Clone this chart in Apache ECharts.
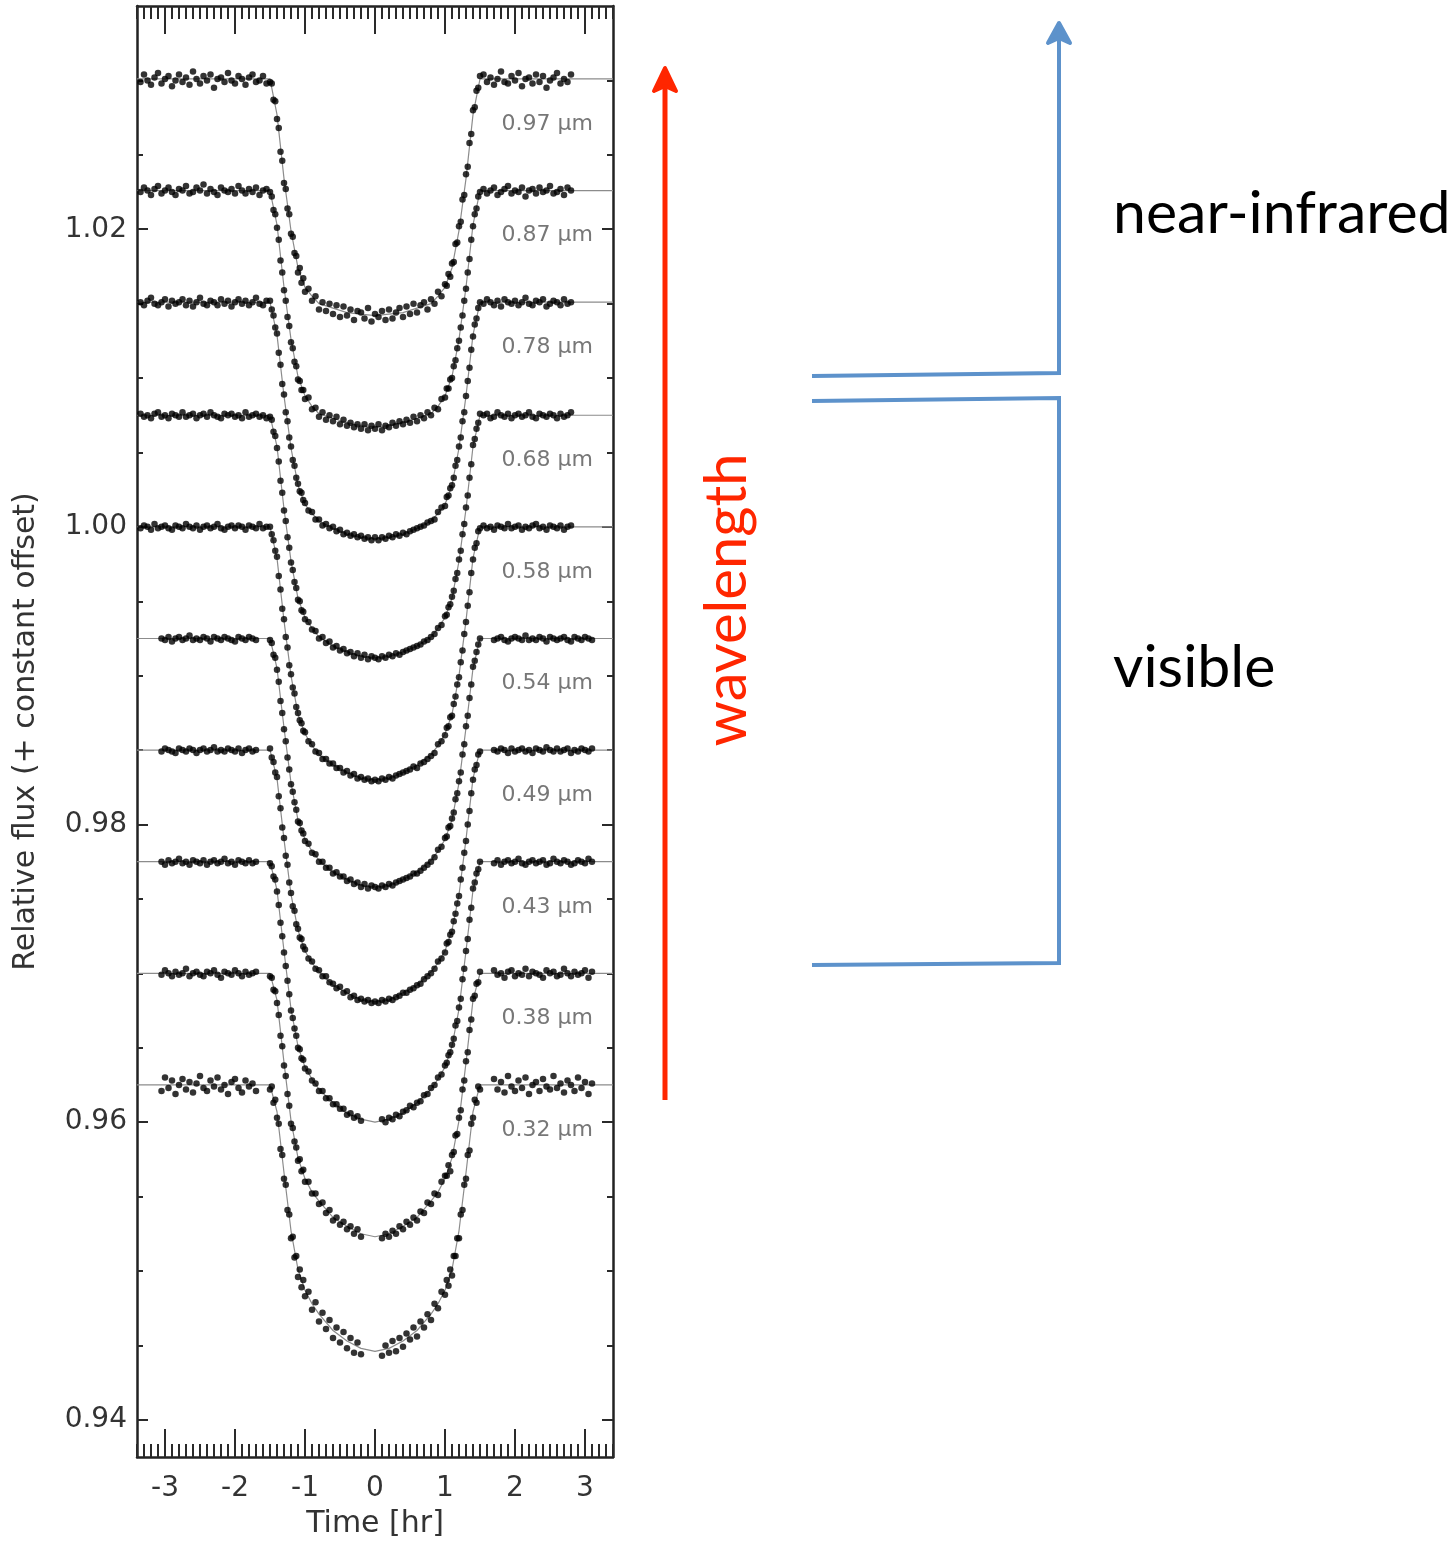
<!DOCTYPE html>
<html>
<head>
<meta charset="utf-8">
<title>Transit light curves by wavelength</title>
<script src="https://cdn.jsdelivr.net/npm/echarts@6/dist/echarts.min.js"></script>
<style>
  html, body { margin: 0; padding: 0; background: #fff; }
  #chart { width: 1456px; height: 1545px; }
</style>
</head>
<body>
<div id="chart"></div>
<script>
// Wavelength bands, top to bottom, and their out-of-transit flux level (with offset)
const bands = ["0.97 µm", "0.87 µm", "0.78 µm", "0.68 µm", "0.58 µm",
               "0.54 µm", "0.49 µm", "0.43 µm", "0.38 µm", "0.32 µm"]
const baselines = [1.0301, 1.0226, 1.0151, 1.0075, 1.0000,
                   0.9925, 0.9850, 0.9775, 0.9700, 0.9625]
// which time sampling each band uses (the red bands were observed with wider coverage)
const bandSampling = ["nir", "nir", "nir", "nir", "nir", "vis", "vis", "vis", "vis", "vis"]

// Observation times [hr]
const timeLeftNir = [-3.35, -3.3, -3.25, -3.2, -3.15, -3.1, -3.05, -3.0, -2.95, -2.9, -2.85, -2.8, -2.75,
  -2.7, -2.65, -2.6, -2.55, -2.5, -2.45, -2.4, -2.35, -2.3, -2.25, -2.2, -2.15, -2.1, -2.05, -2.0,
  -1.95, -1.9, -1.85, -1.8, -1.75, -1.7, -1.65, -1.6, -1.55]
const timeRightNir = [1.55, 1.6, 1.65, 1.7, 1.75, 1.8, 1.85, 1.9, 1.95, 2.0, 2.05, 2.1, 2.15, 2.2,
  2.25, 2.3, 2.35, 2.4, 2.45, 2.5, 2.55, 2.6, 2.65, 2.7, 2.75, 2.8]
const timeLeftVis = [-3.05, -3.0, -2.95, -2.9, -2.85, -2.8, -2.75, -2.7, -2.65, -2.6, -2.55, -2.5,
  -2.45, -2.4, -2.35, -2.3, -2.25, -2.2, -2.15, -2.1, -2.05, -2.0, -1.95, -1.9, -1.85, -1.8, -1.75, -1.7]
const timeRightVis = [1.7, 1.75, 1.8, 1.85, 1.9, 1.95, 2.0, 2.05, 2.1, 2.15, 2.2, 2.25, 2.3, 2.35,
  2.4, 2.45, 2.5, 2.55, 2.6, 2.65, 2.7, 2.75, 2.8, 2.85, 2.9, 2.95, 3.0, 3.05, 3.1]
const timeTransit = [-1.5, -1.475, -1.45, -1.425, -1.4, -1.375, -1.35, -1.325, -1.3, -1.275, -1.25,
  -1.225, -1.2, -1.175, -1.15, -1.125, -1.1, -1.075, -1.05, -1.025, -1.0,
  -0.95, -0.9, -0.85, -0.8, -0.75, -0.7, -0.65, -0.6, -0.55, -0.5, -0.45, -0.4, -0.35, -0.3, -0.25,
  -0.2, -0.15, -0.1, -0.05, 0, 0.05, 0.1, 0.15, 0.2, 0.25, 0.3, 0.35, 0.4, 0.45, 0.5, 0.55, 0.6,
  0.65, 0.7, 0.75, 0.8, 0.85, 0.9, 0.95,
  1.0, 1.025, 1.05, 1.075, 1.1, 1.125, 1.15, 1.175, 1.2, 1.225, 1.25, 1.275, 1.3, 1.325, 1.35,
  1.375, 1.4, 1.425, 1.45, 1.475, 1.5]

// Measured dip below each band's baseline, in units of 1e-4 relative flux
// [before transit, in transit, after transit]
const dip097 = [
  [2, -3, 1, 4, -1, -4, 3, 0, -2, 5, 1, -3, 2, -1, 4, -5, 0, 3, -2, 1, -3, 6, 0, -1, 2, -4, 1, 3, -2, 0, 4, -1, -3, 2, 1, -2, 3],
  [2, 3, 14, 15, 27, 33, 49, 55, 70, 74, 87, 91, 104, 106, 117, 119, 130, 127, 137, 134, 143,
   141, 149, 146, 155, 150, 156, 151, 158, 152, 160, 153, 159, 155, 162, 156, 157, 161, 154, 163, 158,
   160, 156, 162, 155, 161, 157, 154, 160, 153, 158, 151, 157, 152, 150, 155, 148, 151, 143, 146,
   138, 139, 131, 133, 124, 123, 111, 110, 99, 96, 81, 78, 64, 59, 43, 37, 21, 19, 8, 6, -2],
  [-3, 2, -1, 4, 0, -5, 2, 3, -2, 1, -4, 5, 0, -1, 3, -3, 2, -2, 6, 1, -1, -4, 3, 0, 2, -3]
]
const dip087 = [
  [1, -2, 0, 3, -1, -3, 2, 0, -2, 1, 3, -1, 0, -3, 2, 1, -2, 0, -4, 2, -1, 1, 3, -2, 0, 1, -1, 2, -3, 0, 2, -1, 1, -2, 3, 0, -1],
  [1, 4, 13, 16, 25, 33, 47, 55, 67, 74, 85, 91, 102, 106, 115, 118, 127, 128, 134, 134, 140,
   139, 147, 146, 152, 149, 154, 151, 155, 152, 157, 154, 158, 156, 159, 157, 160, 157, 161, 158, 160,
   157, 161, 158, 159, 156, 158, 155, 157, 154, 156, 152, 155, 151, 153, 149, 151, 146, 147, 140,
   139, 133, 133, 127, 126, 118, 114, 106, 101, 92, 84, 74, 66, 55, 46, 33, 24, 16, 12, 4, 1],
  [-1, 2, 0, -2, 3, 1, -1, -3, 2, 0, 1, -2, 4, 0, -1, 2, -2, 1, 0, -3, 2, 1, -1, 3, -2, 0]
]
const dip078 = [
  [0, 2, -1, -3, 1, 2, 0, -2, 3, -1, 1, 0, -2, 2, -1, 3, 0, -3, 1, 2, -1, 0, 2, -2, 1, -1, 3, 0, -2, 1, -1, 2, 0, -3, 1, 2, -1],
  [-1, 5, 9, 17, 21, 34, 42, 55, 62, 74, 80, 91, 97, 106, 110, 118, 122, 127, 128, 133, 135,
   140, 141, 146, 146, 150, 149, 152, 151, 154, 153, 156, 155, 157, 156, 158, 157, 159, 158, 160, 158,
   160, 158, 159, 157, 158, 156, 157, 155, 156, 154, 153, 152, 151, 150, 148, 147, 146, 141, 138,
   137, 131, 130, 125, 123, 118, 110, 106, 97, 91, 80, 74, 63, 53, 44, 32, 23, 15, 11, 4, 0],
  [1, -2, 0, 2, -1, 3, -2, 0, 1, -1, 2, 0, -3, 1, 2, -1, 0, -2, 3, 1, -1, 0, 2, -2, 1, 0]
]
const dip068 = [
  [-1, 1, 0, 2, -1, -2, 1, 0, 2, -1, 0, 1, -2, 1, 0, -1, 2, 0, -1, 1, -2, 0, 1, 2, -1, 0, -1, 1, 0, 2, -2, 1, 0, -1, 1, 0, 2],
  [1, 3, 11, 14, 22, 31, 44, 52, 64, 71, 82, 89, 99, 104, 112, 116, 124, 125, 131, 132, 137,
   139, 144, 145, 150, 149, 153, 152, 156, 155, 158, 157, 160, 159, 162, 160, 163, 161, 164, 162, 163,
   164, 162, 163, 161, 162, 160, 161, 159, 158, 157, 156, 155, 154, 152, 151, 149, 147, 143, 141,
   135, 134, 129, 127, 122, 118, 110, 106, 97, 91, 80, 73, 62, 54, 42, 33, 20, 16, 9, 5, -1],
  [0, -1, 2, 1, -2, 0, 1, -1, 2, 0, -1, 1, 0, -2, 1, 2, -1, 0, 1, -1, 0, 2, -1, 1, 0, -2]
]
const dip058 = [
  [1, -1, 0, 2, -2, 1, 0, -1, 1, 2, -1, 0, 1, -2, 0, 1, -1, 2, 0, -1, 1, 0, -2, 1, 2, 0, -1, 1, -1, 0, 2, -1, 0, 1, -2, 1, 0],
  [0, 5, 9, 16, 20, 33, 42, 55, 62, 74, 81, 93, 99, 108, 112, 121, 125, 130, 132, 137, 138,
   144, 146, 151, 152, 156, 156, 159, 159, 162, 162, 165, 164, 167, 166, 169, 168, 170, 169, 171, 170,
   171, 169, 170, 168, 169, 167, 166, 165, 164, 163, 161, 162, 159, 158, 156, 154, 152, 146, 144,
   140, 135, 134, 128, 127, 119, 114, 106, 101, 91, 83, 72, 64, 53, 44, 31, 22, 14, 11, 3, 1],
  [-1, 1, 0, 2, -1, 0, 1, -2, 1, 0, -1, 2, 0, 1, -1, -2, 1, 0, 2, -1, 0, 1, -1, 2, 0, -1]
]
const dip054 = [
  [0, 1, -1, 2, 0, -1, 1, 0, -2, 1, 0, 1, -1, 0, 2, -1, 0, 1, -1, 0, 1, 2, -1, 0, 1, -1, 0, 1],
  [1, 3, 11, 13, 21, 29, 42, 50, 61, 69, 80, 88, 98, 103, 110, 115, 123, 124, 129, 131, 136,
   138, 144, 145, 150, 150, 154, 154, 158, 157, 160, 160, 163, 162, 165, 164, 167, 165, 168, 166, 167,
   168, 166, 167, 165, 166, 164, 163, 162, 161, 160, 158, 158, 156, 154, 152, 150, 147, 142, 140,
   134, 133, 127, 126, 121, 117, 108, 104, 96, 90, 78, 71, 59, 52, 40, 31, 19, 15, 9, 4, 0],
  [1, 0, -1, 1, 2, 0, -1, 0, 1, -2, 1, 0, 1, -1, 0, 2, -1, 0, 1, 0, -1, 1, 2, -1, 0, 1, -1, 0, 1]
]
const dip049 = [
  [1, -1, 0, 1, 2, -1, 0, 1, -1, 0, 2, 0, -1, 1, 0, -2, 1, 0, 1, -1, 0, 1, -1, 2, 0, -1, 1, 0],
  [-1, 5, 8, 15, 18, 31, 39, 52, 59, 71, 77, 89, 96, 105, 108, 117, 120, 126, 127, 132, 134,
   140, 142, 147, 148, 152, 152, 156, 157, 160, 159, 163, 162, 166, 165, 168, 167, 169, 168, 170, 169,
   170, 168, 169, 167, 168, 166, 165, 163, 163, 161, 160, 158, 157, 154, 152, 150, 147, 142, 140,
   136, 130, 129, 124, 122, 115, 110, 103, 98, 87, 79, 69, 61, 50, 41, 29, 20, 13, 10, 3, 1],
  [0, 1, -1, 0, 2, -1, 1, 0, -1, 1, 0, 2, -1, 0, 1, -2, 0, 1, -1, 1, 0, -1, 2, 0, 1, -1, 0, 1, -1]
]
const dip043 = [
  [0, 2, -1, 1, 0, -2, 1, 0, 2, -1, 0, 1, -1, 2, 0, -1, 1, 0, -2, 1, 0, 2, -1, 0, 1, -1, 1, 0],
  [1, 3, 10, 12, 20, 29, 41, 50, 61, 70, 80, 89, 100, 105, 112, 117, 125, 126, 132, 133, 139,
   141, 147, 149, 154, 154, 159, 159, 163, 163, 166, 166, 170, 169, 172, 171, 174, null, null, null, null,
   null, 173, 175, 172, 173, 170, 171, 168, 167, 164, 165, 162, 161, 157, 156, 152, 150, 145, 143,
   137, 135, 130, 128, 123, 119, 110, 107, 98, 92, 79, 72, 60, 52, 39, 31, 18, 14, 8, 5, 0],
  [1, -1, 2, 0, -1, 1, 0, -2, 1, 2, 0, -1, 1, 0, -1, 2, 1, -2, 0, 1, -1, 0, 2, 1, -1, 0, 1, -2, 0]
]
const dip038 = [
  [1, -2, 0, 2, -1, 1, 0, -3, 2, 0, -1, 1, 2, -1, 0, -2, 1, 3, -1, 0, 1, -2, 0, 2, -1, 1, 0, -1],
  [2, 3, 11, 12, 20, 28, 42, 49, 62, 69, 81, 89, 101, 104, 113, 117, 126, 125, 133, 132, 140,
   140, 148, 148, 155, 154, 161, 159, 166, 164, 169, 167, 172, 170, 175, 172, 177, null, null, null, null,
   null, 178, 175, 177, 173, 175, 170, 172, 167, 169, 164, 166, 160, 161, 154, 155, 148, 149, 140,
   136, 136, 129, 133, 122, 120, 109, 108, 97, 92, 78, 72, 59, 53, 38, 31, 17, 15, 7, 6, -1],
  [-2, 1, 0, 3, -1, -2, 2, 0, 1, -3, 2, -1, 0, 1, 3, -2, 0, -1, 2, 1, -3, 0, 2, -1, 1, 0, -2, 3, -1]
]
const dip032 = [
  [4, -5, 2, -3, 6, 0, -4, 3, -2, 5, -1, -6, 2, 4, -3, 1, -5, 3, 0, 6, -2, -4, 2, 5, -3, 1, -1, 4],
  [3, 1, 12, 10, 22, 26, 43, 47, 63, 67, 84, 87, 103, 102, 116, 115, 129, 124, 136, 131, 142,
   139, 151, 146, 159, 153, 164, 158, 170, 163, 173, 166, 177, 170, 180, 173, 181, null, null, null, null,
   null, 182, 175, 180, 172, 179, 170, 176, 167, 171, 163, 169, 159, 163, 154, 158, 147, 150, 139,
   141, 131, 135, 124, 128, 115, 115, 103, 103, 87, 84, 67, 63, 47, 44, 26, 22, 10, 12, 1, 3],
  [-4, 3, -2, 5, -6, 1, 4, -3, 2, -5, 6, 0, -2, 4, -4, 1, 3, -6, 2, -1, 5, -3, 0, 4, -5, 2, -2, 6, -1]
]
const dips = [dip097, dip087, dip078, dip068, dip058, dip054, dip049, dip043, dip038, dip032]

// Fitted transit model per band: depth (1e-4) at modelTime
const modelTime = [-3.4, -1.5, -1.4, -1.3, -1.2, -1.1, -1.0, -0.9, -0.8, -0.6, -0.4, -0.2, 0,
  0.2, 0.4, 0.6, 0.8, 0.9, 1.0, 1.1, 1.2, 1.3, 1.4, 1.5, 3.4]
const model097 = [0, 0, 24, 67, 102, 127, 140, 146, 151, 154, 157, 158, 159, 158, 157, 154, 151, 146, 140, 127, 102, 67, 24, 0, 0]
const model087 = [0, 0, 23, 65, 100, 125, 138, 145, 150, 153, 156, 158, 159, 158, 156, 153, 150, 145, 138, 125, 100, 65, 23, 0, 0]
const model078 = [0, 0, 22, 63, 98, 123, 136, 142, 147, 152, 156, 158, 159, 158, 156, 152, 147, 142, 136, 123, 98, 63, 22, 0, 0]
const model068 = [0, 0, 21, 63, 98, 123, 136, 143, 149, 155, 159, 162, 163, 162, 159, 155, 149, 143, 136, 123, 98, 63, 21, 0, 0]
const model058 = [0, 0, 21, 63, 100, 126, 139, 147, 153, 160, 165, 169, 170, 169, 165, 160, 153, 147, 139, 126, 100, 63, 21, 0, 0]
const model054 = [0, 0, 20, 60, 97, 122, 135, 143, 149, 157, 162, 166, 167, 166, 162, 157, 149, 143, 135, 122, 97, 60, 20, 0, 0]
const model049 = [0, 0, 19, 60, 97, 121, 135, 143, 149, 158, 163, 168, 169, 168, 163, 158, 149, 143, 135, 121, 97, 60, 19, 0, 0]
const model043 = [0, 0, 19, 60, 99, 124, 138, 146, 153, 162, 169, 173, 175, 173, 169, 162, 153, 146, 138, 124, 99, 60, 19, 0, 0]
const model038 = [0, 0, 18, 60, 99, 124, 138, 147, 153, 164, 170, 175, 177, 175, 170, 164, 153, 147, 138, 124, 99, 60, 18, 0, 0]
const model032 = [0, 0, 18, 59, 98, 124, 138, 147, 154, 165, 172, 177, 179, 177, 172, 165, 154, 147, 138, 124, 98, 59, 18, 0, 0]
const models = [model097, model087, model078, model068, model058, model054, model049, model043, model038, model032]

// Axis ticks
const timeTicks = [-3, -2, -1, 0, 1, 2, 3]
const fluxTicks = [0.94, 0.96, 0.98, 1.0, 1.02]
const fluxMinorTicks = [0.94, 0.945, 0.95, 0.955, 0.96, 0.965, 0.97, 0.975, 0.98, 0.985, 0.99,
  0.995, 1.0, 1.005, 1.01, 1.015, 1.02, 1.025, 1.03]

const timeSets = {
  nir: [timeLeftNir, timeTransit, timeRightNir],
  vis: [timeLeftVis, timeTransit, timeRightVis],
}

const LABEL_TIME = 2.46
const LABEL_DROP = 0.00303

function toFlux(base, dip) {
  return +(base - dip * 1e-4).toFixed(5)
}

const series = []
const labelData = []

bands.forEach((name, i) => {
  const base = baselines[i]
  const grids = timeSets[bandSampling[i]]
  const points = []
  dips[i].forEach((seg, s) => {
    if (seg.length !== grids[s].length) {
      console.warn("length mismatch", name, s, seg.length, grids[s].length)
    }
    seg.forEach((d, k) => {
      if (d !== null && grids[s][k] !== undefined) points.push([grids[s][k], toFlux(base, d)])
    })
  })

  series.push({
    type: "line",
    name: name + " model",
    data: modelTime.map((t, k) => [t, toFlux(base, models[i][k])]),
    showSymbol: false,
    symbol: "none",
    lineStyle: { color: "#8c8c8c", width: 1.2 },
    z: 2,
    silent: true,
  })
  series.push({
    type: "scatter",
    name: name,
    data: points,
    symbolSize: 6.5,
    itemStyle: { color: "#000" },
    z: 3,
    silent: true,
  })
  labelData.push({ name: name, value: [LABEL_TIME, base - LABEL_DROP] })
})

series.push({
  type: "scatter",
  data: labelData,
  symbolSize: 0,
  silent: true,
  z: 4,
  label: {
    show: true,
    position: "inside",
    formatter: "{b}",
    fontFamily: "DejaVu Sans",
    fontSize: 22,
    color: "#555",
  },
})

const frameLine = { show: true, onZero: false, lineStyle: { color: "#222", width: 2.5 } }
const hiddenLine = { show: false, onZero: false }
const tickLine = { color: "#2a2a2a", width: 2 }
const tickFont = { fontFamily: "DejaVu Sans", fontSize: 28, color: "#333" }

function isWhole(v) {
  return Math.abs(v - Math.round(v)) < 1e-6
}

function timeAxis(position, withLabels) {
  return [
    {
      type: "value",
      position: position,
      min: -3.4,
      max: 3.4,
      interval: 0.1,
      axisLine: frameLine,
      axisTick: { inside: true, length: 13, lineStyle: tickLine },
      axisLabel: withLabels
        ? Object.assign({ margin: 18, formatter: (v) => (isWhole(v) ? String(Math.round(v)) : "") }, tickFont)
        : { show: false },
      splitLine: { show: false },
      name: withLabels ? "Time [hr]" : "",
      nameLocation: "middle",
      nameGap: 52,
      nameTextStyle: { fontFamily: "DejaVu Sans", fontSize: 30, color: "#333" },
    },
    {
      type: "value",
      position: position,
      min: -3.4,
      max: 3.4,
      axisLine: hiddenLine,
      axisTick: { inside: true, length: 28, customValues: timeTicks, lineStyle: tickLine },
      axisLabel: { show: false },
      splitLine: { show: false },
    },
  ]
}

function fluxAxis(position, withLabels) {
  return [
    {
      type: "value",
      position: position,
      min: 0.9375,
      max: 1.035,
      axisLine: frameLine,
      axisTick: { inside: true, length: 11, customValues: fluxTicks, lineStyle: tickLine },
      axisLabel: withLabels
        ? Object.assign({ margin: 10, customValues: fluxTicks, formatter: (v) => v.toFixed(2) }, tickFont)
        : { show: false },
      splitLine: { show: false },
      name: withLabels ? "Relative flux (+ constant offset)" : "",
      nameLocation: "middle",
      nameGap: 96,
      nameTextStyle: { fontFamily: "DejaVu Sans", fontSize: 30, color: "#333" },
    },
    {
      type: "value",
      position: position,
      min: 0.9375,
      max: 1.035,
      axisLine: hiddenLine,
      axisTick: { inside: true, length: 6, customValues: fluxMinorTicks, lineStyle: tickLine },
      axisLabel: { show: false },
      splitLine: { show: false },
    },
  ]
}

const red = "#ff2600"
const blue = "#5d92cb"

const option = {
  animation: false,
  backgroundColor: "#fff",
  grid: { left: 137, right: 843, top: 6, bottom: 88, outerBoundsMode: "none" },
  xAxis: [...timeAxis("bottom", true), ...timeAxis("top", false)],
  yAxis: [...fluxAxis("left", true), ...fluxAxis("right", false)],
  series: series,
  graphic: [
    // red wavelength arrow
    { type: "line", shape: { x1: 665, y1: 1100, x2: 665, y2: 82 }, style: { stroke: red, lineWidth: 5 } },
    {
      type: "polygon",
      shape: { points: [[665, 68], [654, 91], [665, 86], [676, 91]] },
      style: { fill: red, stroke: red, lineWidth: 4, lineJoin: "round" },
    },
    {
      type: "text",
      x: 727,
      y: 600,
      rotation: Math.PI / 2,
      style: { text: "wavelength", font: "58px Lato", fill: red, align: "center", verticalAlign: "middle" },
    },
    // near-infrared bracket
    {
      type: "polyline",
      shape: { points: [[812, 376], [1059, 373], [1059, 36]] },
      style: { stroke: blue, lineWidth: 4, fill: null },
    },
    {
      type: "polygon",
      shape: { points: [[1059, 23], [1048, 43], [1059, 38], [1070, 43]] },
      style: { fill: blue, stroke: blue, lineWidth: 4, lineJoin: "round" },
    },
    // visible bracket
    {
      type: "polyline",
      shape: { points: [[812, 401], [1059, 398], [1059, 963], [812, 965]] },
      style: { stroke: blue, lineWidth: 4, fill: null },
    },
    {
      type: "text",
      x: 1113,
      y: 214,
      style: { text: "near-infrared", font: "59px Lato", fill: "#000", align: "left", verticalAlign: "middle" },
    },
    {
      type: "text",
      x: 1113,
      y: 668,
      style: { text: "visible", font: "59px Lato", fill: "#000", align: "left", verticalAlign: "middle" },
    },
  ],
}

const chart = echarts.init(document.getElementById("chart"))
chart.setOption(option)
window.addEventListener("resize", () => chart.resize())
</script>
</body>
</html>
